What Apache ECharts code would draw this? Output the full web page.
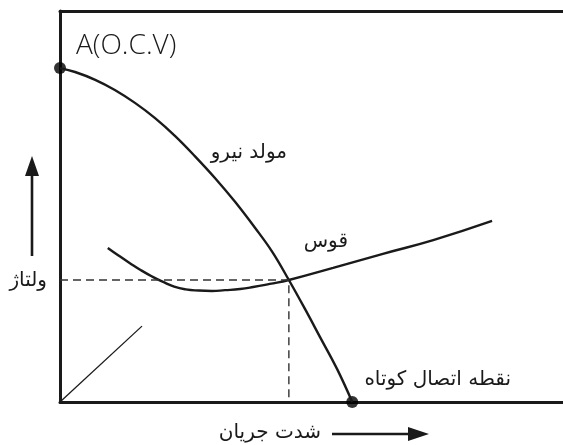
<!DOCTYPE html>
<html>
<head>
<meta charset="utf-8">
<script src="https://cdn.jsdelivr.net/npm/echarts@6/dist/echarts.min.js"></script>
<style>
  html, body { margin: 0; padding: 0; background: #fff; }
  #chart { width: 563px; height: 445px; }
</style>
</head>
<body>
<div id="chart"></div>
<script>
// منحنی مولد نیرو (generator curve)
const genX = [0, 3.0, 7.0, 10.9, 14.9, 18.9, 22.9, 26.8, 30.8, 34.8, 38.8, 42.2, 45.5, 48.7, 51.7, 55.1, 58.1]
const genY = [85.4, 84.4, 82.4, 79.8, 76.5, 72.6, 68.0, 62.9, 57.3, 51.2, 44.5, 38.4, 31.2, 23.8, 16.6, 8.4, 0]
// منحنی قوس (arc curve)
const arcX = [9.5, 11.7, 13.9, 16.1, 18.3, 20.5, 22.7, 25.0, 27.6, 30.2, 32.8, 35.8, 38.4, 41.7, 45.5, 54.3, 64.2, 74.2, 85.9]
const arcY = [39.4, 37.4, 35.5, 33.7, 32.1, 30.7, 29.5, 28.8, 28.5, 28.4, 28.6, 28.9, 29.4, 30.2, 31.2, 34.3, 37.9, 41.4, 46.3]
// working point + short line from origin
const workPoint = [45.5, 31.2]
const ocvPoint = [0, 85.4]
const shortPoint = [58.1, 0]
const diagX = [0, 16.3]
const diagY = [0, 19.4]

const labels = {
  ocv: 'A(O.C.V)',
  gen: 'مولد نیرو',
  arc: 'قوس',
  volt: 'ولتاژ',
  short: 'نقطه اتصال کوتاه',
  current: 'شدت جریان'
}

const zip = (xs, ys) => xs.map((x, i) => [x, ys[i]])
const ink = '#1a1a1a'
const faFont = '20px "DejaVu Sans"'

const chart = echarts.init(document.getElementById('chart'), null, { renderer: 'canvas' })

const hiddenAxis = {
  type: 'value',
  min: 0,
  max: 100,
  axisLabel: { show: false },
  axisTick: { show: false },
  splitLine: { show: false }
}
const axisLine = { show: true, onZero: false, lineStyle: { color: ink, width: 3 } }

chart.setOption({
  animation: false,
  backgroundColor: '#fff',
  grid: { left: 60, right: 0, top: 11, bottom: 43 },
  xAxis: [
    Object.assign({}, hiddenAxis, { position: 'bottom', axisLine }),
    Object.assign({}, hiddenAxis, { position: 'top', axisLine })
  ],
  yAxis: Object.assign({}, hiddenAxis, { axisLine }),
  series: [
    {
      type: 'line',
      data: zip(genX, genY),
      smooth: 0.4,
      showSymbol: false,
      clip: false,
      lineStyle: { color: ink, width: 2.4 }
    },
    {
      type: 'line',
      data: zip(arcX, arcY),
      smooth: 0.5,
      showSymbol: false,
      clip: false,
      lineStyle: { color: ink, width: 2.4 }
    },
    {
      type: 'line',
      data: [[0, workPoint[1]], workPoint, [workPoint[0], 0]],
      showSymbol: false,
      clip: false,
      lineStyle: { color: '#333', width: 1.4, type: [8, 5] }
    },
    {
      type: 'line',
      data: zip(diagX, diagY),
      showSymbol: false,
      clip: false,
      lineStyle: { color: ink, width: 1.3 }
    },
    {
      type: 'scatter',
      data: [ocvPoint, shortPoint],
      symbolSize: 12,
      clip: false,
      itemStyle: { color: '#000' }
    }
  ],
  graphic: [
    // vertical arrow (voltage)
    { type: 'line', shape: { x1: 32, y1: 256, x2: 32, y2: 172 }, style: { stroke: ink, lineWidth: 2.6 } },
    { type: 'polygon', shape: { points: [[32, 156], [25, 176], [39, 176]] }, style: { fill: ink } },
    // horizontal arrow (current)
    { type: 'line', shape: { x1: 332, y1: 434, x2: 412, y2: 434 }, style: { stroke: ink, lineWidth: 2.6 } },
    { type: 'polygon', shape: { points: [[429, 434], [408, 427], [408, 441]] }, style: { fill: ink } },
    // texts
    { type: 'text', x: 76, y: 46, style: { text: labels.ocv, font: '300 28px "Open Sans"', fill: ink, textAlign: 'left', textVerticalAlign: 'middle' } },
    { type: 'text', x: 287, y: 153, style: { text: labels.gen, font: faFont, fill: ink, textAlign: 'right', textVerticalAlign: 'middle' } },
    { type: 'text', x: 348, y: 242, style: { text: labels.arc, font: faFont, fill: ink, textAlign: 'right', textVerticalAlign: 'middle' } },
    { type: 'text', x: 47, y: 281, style: { text: labels.volt, font: faFont, fill: ink, textAlign: 'right', textVerticalAlign: 'middle' } },
    { type: 'text', x: 511, y: 380, style: { text: labels.short, font: faFont, fill: ink, textAlign: 'right', textVerticalAlign: 'middle' } },
    { type: 'text', x: 321, y: 433, style: { text: labels.current, font: faFont, fill: ink, textAlign: 'right', textVerticalAlign: 'middle' } }
  ]
})
</script>
</body>
</html>
